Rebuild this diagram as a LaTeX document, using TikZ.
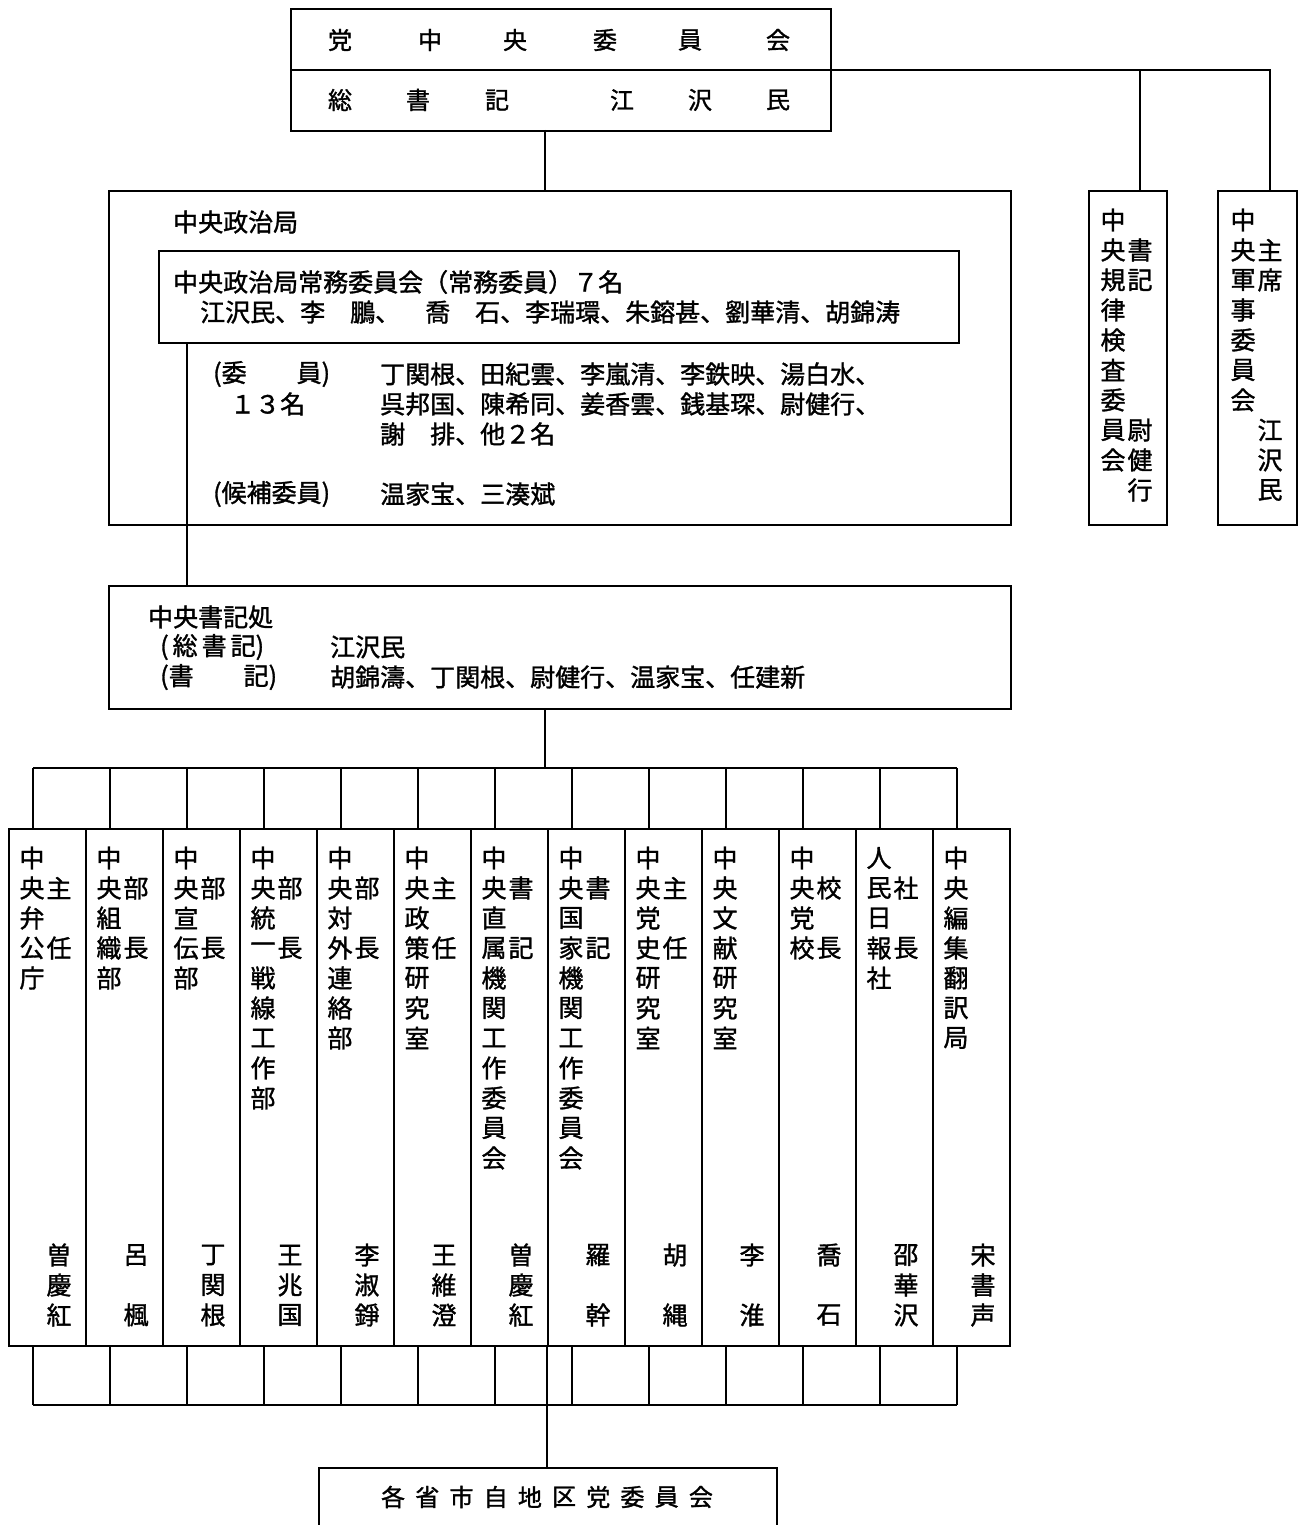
\documentclass[tikz,border=0pt]{standalone}
\usepackage{fontspec}
\newfontfamily\jp[FakeBold=1.3]{Noto Sans CJK JP}
\begin{document}
\begin{tikzpicture}[x=1pt,y=-1pt,
  box/.style={draw, line width=2.4pt, anchor=north west, inner sep=0pt, rectangle},
  ln/.style={line width=2.4pt},
  jc/.style={font=\jp\fontsize{25}{30}\selectfont, inner sep=0pt, anchor=center},
  jl/.style={font=\jp\fontsize{25}{30}\selectfont, inner sep=0pt, anchor=west},
  jt/.style={font=\jp\fontsize{24}{30}\selectfont, inner sep=0pt, anchor=center},
]
\fill[white] (0,0) rectangle (1302,1525);
\useasboundingbox (0,0) rectangle (1302,1525);

% ---------- boxes ----------
\node[box, minimum width=540pt, minimum height=122pt] (cc) at (290,8) {};
\node[box, minimum width=902pt, minimum height=334pt] (pb) at (108,190) {};
\node[box, minimum width=800pt, minimum height=92pt] (psc) at (158,250) {};
\node[box, minimum width=78pt, minimum height=334pt] (cdi) at (1088,190) {};
\node[box, minimum width=79pt, minimum height=334pt] (cmc) at (1217,190) {};
\node[box, minimum width=902pt, minimum height=123pt] (sec) at (108,585) {};
\node[box, minimum width=458pt, minimum height=90pt] (prov) at (318,1467) {};

\coordinate (div) at (290,70);
\draw[ln] (cc.west |- div) -- (cc.east |- div);

% ---------- connectors ----------
\coordinate (j1) at (545,130);
\draw[ln] (j1) -- (j1 |- pb.north);
\coordinate (r1) at (1140,70);
\coordinate (r2) at (1270,70);
\draw[ln] (cc.east |- div) -- (r2) -- (r2 |- cmc.north);
\draw[ln] (r1) -- (r1 |- cdi.north);
\coordinate (j2) at (187,342);
\draw[ln] (j2) -- (j2 |- sec.north);
\coordinate (j3) at (545,708);
\coordinate (bt) at (545,768);
\draw[ln] (j3) -- (bt);
\coordinate (btl) at (33,768);
\coordinate (btr) at (957,768);
\draw[ln] (btl) -- (btr);
\coordinate (bbl) at (33,1405);
\coordinate (bbr) at (957,1405);
\draw[ln] (bbl) -- (bbr);
\coordinate (j4) at (547,1345);
\draw[ln] (j4) -- (j4 |- prov.north);

% ---------- top box text ----------
\foreach \c/\x [count=\k] in {党/340,中/430,央/515,委/605,員/690,会/778}
  \node[jt] (ta\k) at (\x,40) {\c};
\foreach \c/\x [count=\k] in {総/340,書/418,記/497,江/622,沢/700,民/778}
  \node[jt] (tb\k) at (\x,100) {\c};

% ---------- politburo ----------
\node[jl] (pbt) at (173,222) {中央政治局};
\node[jl] (psc1) at (173,282) {中央政治局常務委員会（常務委員）７名};
\node[jl] (psc2) at (200,312) {江沢民、李　鵬、　喬　石、李瑞環、朱鎔甚、劉華清、胡錦涛};
\node[jl] (mA) at (213,374) {(委　　員)};
\node[jl] (mB) at (230,404) {１３名};
\node[jl] (m1) at (380,374) {丁関根、田紀雲、李嵐清、李鉄映、湯白水、};
\node[jl] (m2) at (380,404) {呉邦国、陳希同、姜香雲、銭基琛、尉健行、};
\node[jl] (m3) at (380,434) {謝　排、他２名};
\node[jl] (hA) at (213,494) {(候補委員)};
\node[jl] (h1) at (380,494) {温家宝、三湊斌};

% ---------- right boxes ----------
\foreach \c [count=\k] in {中,央,規,律,検,査,委,員,会}
  \node[jc] (dl\k) at (1113,190+30*\k) {\c};
\foreach \c [count=\k] in {{},書,記,{},{},{},{},尉,健,行}
  \node[jc] (dr\k) at (1140,190+30*\k) {\c};
\foreach \c [count=\k] in {中,央,軍,事,委,員,会}
  \node[jc] (ml\k) at (1243,190+30*\k) {\c};
\foreach \c [count=\k] in {{},主,席,{},{},{},{},江,沢,民}
  \node[jc] (mr\k) at (1270,190+30*\k) {\c};

% ---------- secretariat ----------
\node[jl] (s0) at (148,617) {中央書記処};
\node[jl] (s1) at (160,647) {(\hspace{4pt}総\hspace{4pt}書\hspace{4pt}記)};
\node[jl] (s2) at (160,677) {(書　　記)};
\node[jl] (s3) at (330,647) {江沢民};
\node[jl] (s4) at (330,677) {胡錦濤、丁関根、尉健行、温家宝、任建新};

% ---------- departments ----------
\foreach \i/\Lt/\Rt/\Nm [evaluate=\i as \L using {8+77*(\i-1)}] in {
  1/{中,央,弁,公,庁}/{{},主,{},任}/{曽,慶,紅},
  2/{中,央,組,織,部}/{{},部,{},長}/{呂,{},楓},
  3/{中,央,宣,伝,部}/{{},部,{},長}/{丁,関,根},
  4/{中,央,統,一,戦,線,工,作,部}/{{},部,{},長}/{王,兆,国},
  5/{中,央,対,外,連,絡,部}/{{},部,{},長}/{李,淑,錚},
  6/{中,央,政,策,研,究,室}/{{},主,{},任}/{王,維,澄},
  7/{中,央,直,属,機,関,工,作,委,員,会}/{{},書,{},記}/{曽,慶,紅},
  8/{中,央,国,家,機,関,工,作,委,員,会}/{{},書,{},記}/{羅,{},幹},
  9/{中,央,党,史,研,究,室}/{{},主,{},任}/{胡,{},縄},
  10/{中,央,文,献,研,究,室}/{{}}/{李,{},淮},
  11/{中,央,党,校}/{{},校,{},長}/{喬,{},石},
  12/{人,民,日,報,社}/{{},社,{},長}/{邵,華,沢},
  13/{中,央,編,集,翻,訳,局}/{{}}/{宋,書,声}} {
  \node[box, minimum width=77pt, minimum height=517pt] (col\i) at (\L,828) {};
  \coordinate (ct\i) at (\L+25,768);
  \draw[ln] (ct\i) -- (ct\i |- col\i.north);
  \coordinate (cb\i) at (\L+25,1405);
  \draw[ln] (col\i.south -| cb\i) -- (cb\i);
  \foreach \c [count=\k] in \Lt
    \node[jc] (c\i l\k) at (\L+24,828+30*\k) {\c};
  \foreach \c [count=\k] in \Rt
    \node[jc] (c\i r\k) at (\L+51,828+30*\k) {\c};
  \foreach \c [count=\k] in \Nm
    \node[jc] (c\i n\k) at (\L+51,1225+30*\k) {\c};
}

% ---------- bottom box text ----------
\foreach \c [count=\k] in {各,省,市,自,地,区,党,委,員,会}
  \node[jt] (pv\k) at (547+34.2*\k-188.1,1497) {\c};
\end{tikzpicture}
\end{document}
